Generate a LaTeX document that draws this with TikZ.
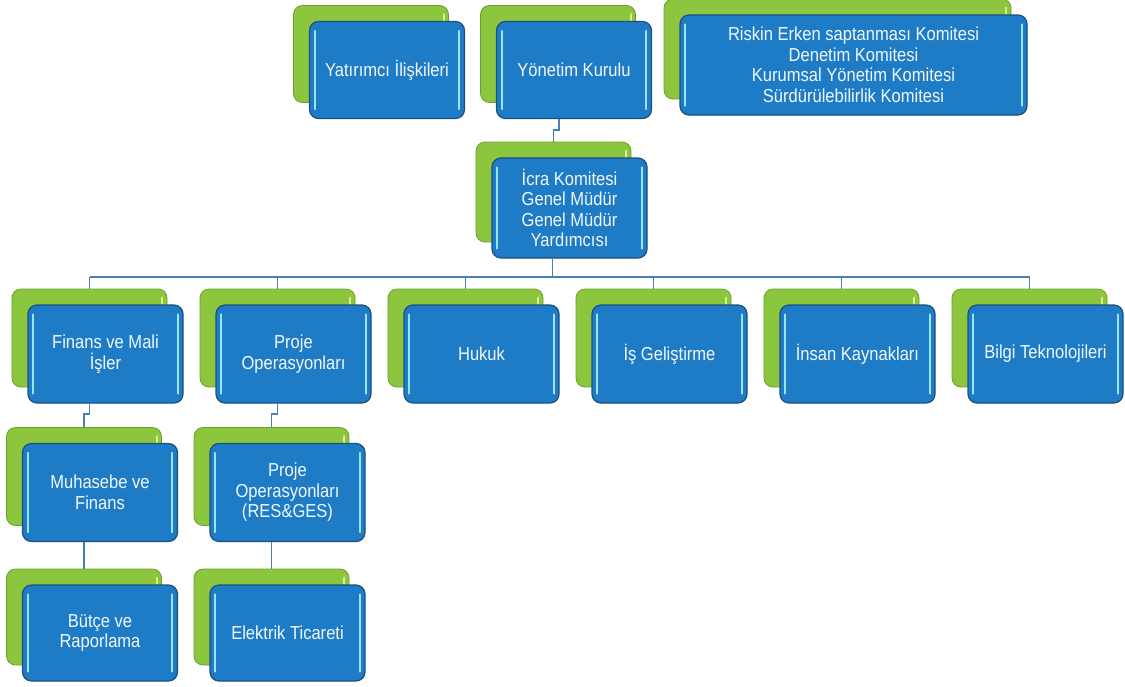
\documentclass[tikz,border=0pt]{standalone}
\usepackage{fontspec}
\setmainfont{Liberation Sans}
\newfontfamily\boxfont[FakeStretch=0.88]{Liberation Sans}
\usepackage{xcolor}

\definecolor{boxblue}{HTML}{1E7BC5}
\definecolor{blueedge}{HTML}{1B4F82}
\definecolor{shineblue}{HTML}{9BE3F7}
\definecolor{boxgreen}{HTML}{8CC63E}
\definecolor{greenedge}{HTML}{6A9F2C}
\definecolor{shinegreen}{HTML}{D6F08A}
\definecolor{linkblue}{HTML}{4A7EBB}
\definecolor{labeltext}{HTML}{F2F8FC}

% green card behind, blue card in front
\newcommand{\orgbox}[6]{%
	\node [greenbox, minimum width=#4pt, minimum height=#5pt] (#1-g) at (#2-16,#3-16) {};
	\draw [shinegr] ([xshift=-5pt,yshift=-9pt]#1-g.north east) -- ([xshift=-5pt,yshift=9pt]#1-g.south east);
	\node [bluebox, minimum width=#4pt, minimum height=#5pt] (#1) at (#2,#3) {#6};
	\draw [shine] ([xshift=6pt,yshift=-10pt]#1.north west) -- ([xshift=6pt,yshift=10pt]#1.south west);
	\draw [shine] ([xshift=-6pt,yshift=-10pt]#1.north east) -- ([xshift=-6pt,yshift=10pt]#1.south east);
}

\begin{document}
\begin{tikzpicture}[x=1pt,y=-1pt]
	\tikzstyle{every node}+=[inner sep=2pt]
	\tikzstyle{bluebox}=[rectangle, rounded corners=9pt, fill=boxblue, draw=blueedge, line width=1.2pt, text=labeltext, align=center, font=\boxfont\fontsize{18.8}{20.5}\selectfont]
	\tikzstyle{greenbox}=[rectangle, rounded corners=9pt, fill=boxgreen, draw=greenedge, line width=0.8pt]
	\tikzstyle{shine}=[shineblue, line width=2pt, line cap=round]
	\tikzstyle{shinegr}=[shinegreen, line width=2pt, line cap=round]
	\tikzstyle{link}=[linkblue, line width=1.8pt]
	\useasboundingbox (0,0) rectangle (1125,686);

	% top row
	\orgbox{yat}{387}{70}{155}{97}{Yatırımcı İlişkileri}
	\orgbox{yon}{574}{70}{155}{97}{Yönetim Kurulu}
	\orgbox{kom}{853.5}{65}{347}{100}{Riskin Erken saptanması Komitesi\\Denetim Komitesi\\Kurumsal Yönetim Komitesi\\Sürdürülebilirlik Komitesi}

	\orgbox{icra}{569.5}{208}{155}{100}{İcra Komitesi\\Genel Müdür\\Genel Müdür\\Yardımcısı}

	% second row
	\orgbox{fin}{105.5}{354}{155}{98}{Finans ve Mali\\İşler}
	\orgbox{pro}{293.5}{354}{155}{98}{Proje\\Operasyonları}
	\orgbox{huk}{481.5}{354}{155}{98}{Hukuk}
	\orgbox{isg}{669.5}{354}{155}{98}{İş Geliştirme}
	\orgbox{ins}{857.5}{354}{155}{98}{İnsan Kaynakları}
	\orgbox{bil}{1045.5}{354}{155}{98}{Bilgi Teknolojileri}

	% third and fourth rows
	\orgbox{muh}{100}{492.5}{155}{98}{Muhasebe ve\\Finans}
	\orgbox{res}{287.5}{492.5}{155}{98}{Proje\\Operasyonları\\(RES\&GES)}
	\orgbox{but}{100}{633}{155}{96}{Bütçe ve\\Raporlama}
	\orgbox{ele}{287.5}{633}{155}{96}{Elektrik Ticareti}

	% links
	\draw [link] ([xshift=-15pt]yon.south) -- ++(0,11) -| (icra-g.north);
	\coordinate (bus) at (0,277);
	\draw [link] ([xshift=-17pt]icra.south) -- ([xshift=-17pt]icra.south |- bus);
	\draw [link] (fin-g.north |- bus) -- (bil-g.north |- bus);
	\draw [link] (fin-g.north |- bus) -- (fin-g.north);
	\draw [link] (pro-g.north |- bus) -- (pro-g.north);
	\draw [link] (huk-g.north |- bus) -- (huk-g.north);
	\draw [link] (isg-g.north |- bus) -- (isg-g.north);
	\draw [link] (ins-g.north |- bus) -- (ins-g.north);
	\draw [link] (bil-g.north |- bus) -- (bil-g.north);
	\draw [link] ([xshift=-16pt]fin.south) -- ++(0,10) -| (muh-g.north);
	\draw [link] ([xshift=-16pt]pro.south) -- ++(0,10) -| (res-g.north);
	\draw [link] (muh-g.north |- muh.south) -- (but-g.north);
	\draw [link] (res-g.north |- res.south) -- (ele-g.north);
\end{tikzpicture}
\end{document}
